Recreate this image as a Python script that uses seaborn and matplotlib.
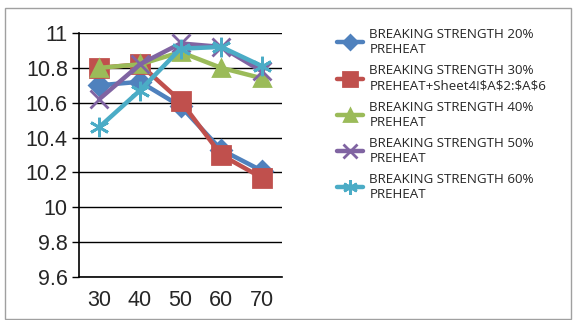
import numpy as np
import pandas as pd
import matplotlib
matplotlib.use("Agg")
import matplotlib.pyplot as plt
import seaborn as sns
from matplotlib.patches import Rectangle

# 数据
preheat = [30, 40, 50, 60, 70]
s20 = [10.70, 10.72, 10.58, 10.33, 10.21]
s30 = [10.80, 10.82, 10.61, 10.30, 10.17]
s40 = [10.80, 10.82, 10.89, 10.80, 10.74]
s50 = [10.62, 10.82, 10.94, 10.92, 10.78]
s60 = [10.46, 10.67, 10.91, 10.92, 10.81]

labels = [
    "BREAKING STRENGTH 20%\nPREHEAT",
    "BREAKING STRENGTH 30%\nPREHEAT+Sheet4!\\$A\\$2:\\$A\\$6",
    "BREAKING STRENGTH 40%\nPREHEAT",
    "BREAKING STRENGTH 50%\nPREHEAT",
    "BREAKING STRENGTH 60%\nPREHEAT",
]
colors = ["#4F81BD", "#C0504D", "#9BBB59", "#8064A2", "#4BACC6"]
markers = ["D", "s", "^", "x", (6, 2, 0)]
msizes = [10, 13, 11, 13, 14]

sns.set_style("white")
plt.rcParams['font.family'] = ['Liberation Sans', 'DejaVu Sans']

fig = plt.figure(figsize=(5.76, 3.2), dpi=100)
ax = fig.add_axes([0.137, 0.134, 0.353, 0.763])

for vals, lab, col, mk, ms in zip([s20, s30, s40, s50, s60], labels, colors, markers, msizes):
    df = pd.DataFrame({"x": preheat, "y": vals})
    sns.lineplot(data=df, x="x", y="y", ax=ax, color=col, linewidth=3.2,
                 marker=mk, markersize=ms, markeredgecolor=col, markeredgewidth=2,
                 label=lab)

ax.set_xlim(25, 75)
ax.set_ylim(9.6, 11)
ax.set_yticks(np.arange(9.6, 11.01, 0.2))
ax.set_yticklabels(["9.6", "9.8", "10", "10.2", "10.4", "10.6", "10.8", "11"], fontsize=15.5)
ax.set_xticks(preheat)
ax.set_xticklabels([str(p) for p in preheat], fontsize=15.5)
ax.set_xticks(np.arange(25, 76, 10), minor=True)
ax.tick_params(axis="x", which="major", length=0, pad=9)
ax.tick_params(axis="x", which="minor", length=7, width=1, color="black", direction="out")
ax.tick_params(axis="y", length=5, width=1, color="black", direction="out", left=True, pad=3)
ax.yaxis.grid(True, color="black", linewidth=1)
ax.xaxis.grid(False)
ax.set_axisbelow(True)
ax.set_xlabel("")
ax.set_ylabel("")
for side in ["top", "right"]:
    ax.spines[side].set_visible(False)
for side in ["left", "bottom"]:
    ax.spines[side].set_color("black")
    ax.spines[side].set_linewidth(1.2)

handles, labs = ax.get_legend_handles_labels()
ax.legend_.remove()
fig.legend(handles, labs, loc="upper left", bbox_to_anchor=(0.565, 0.95), frameon=False,
           handlelength=1.9, labelspacing=0.62, handletextpad=0.5, markerscale=0.75,
           prop={"family": ["Open Sans", "DejaVu Sans"], "size": 9.6})

fig.patches.append(Rectangle((0.009, 0.003), 0.982, 0.972, transform=fig.transFigure,
                             fill=False, edgecolor="#a0a0a0", linewidth=1))

fig.savefig("out.png", dpi=100)
